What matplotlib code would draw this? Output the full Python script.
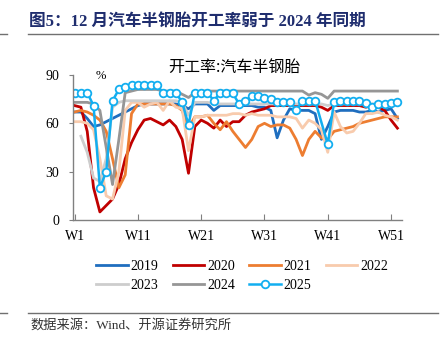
import numpy as np
import matplotlib
matplotlib.use("Agg")
import matplotlib.pyplot as plt

plt.rcParams['font.family'] = ['Liberation Serif', 'Noto Sans CJK SC']

weeks = np.arange(1, 53)
tick_weeks = [1, 11, 21, 31, 41, 51]
tick_labels = ["W1", "W11", "W21", "W31", "W41", "W51"]
nan = np.nan

y2019 = [67, 67, 63, 58, 59, 61, 63, 65, 67, 69, 71, 72, 72, 72, 72, 72, 72, 71, 69, 72,
         72, 72, 68, 71, 71, 71, 71, 71, 71, 70, 70, 68, 51, 62, 69, 68, 68, 68, 66, 50,
         58, 67, 68, 68, 68, 67, 67, 68, 67, 68, 69, 63]
y2020 = [71, 70, 55, 20, 5, 9, 13, 22, 38, 48, 56, 62, 63, 61, 59, 62, 58, 50, 29, 58,
         62, 60, 57, 62, 58, 61, 61, 65, 67, 68, 69, 71, 71, 71, 71, 71, 71, 71, 71, 70,
         68, 71, 71, 71, 71, 71, 70, 71, 70, 68, 62, 57]
y2021 = [67, 68, 67, 65, 62, 55, 38, 20, 28, 66, 72, 72, 72, 72, 72, 72, 71, 68, 57, 64,
         64, 65, 60, 56, 61, 55, 50, 45, 50, 58, 60, 58, 59, 59, 57, 50, 40, 50, 55, 51,
         50, 55, 56, 57, 58, 60, 61, 62, 63, 64, 64, 64]
y2022 = [61, 61, 60, 56, 38, 15, 13, 30, 68, 73, 73, 70, 72, 73, 68, 74, 70, 69, 43, 64,
         64, 65, 65, 65, 65, 66, 66, 65, 66, 65, 65, 65, 64, 64, 64, 63, 57, 62, 60, 56,
         42, 67, 58, 54, 55, 60, 66, 66, 67, 65, 64, 62]
y2023 = [nan, 52, 42, 26, 24, 38, 70, 73, 74, 74, 74, 74, 74, 74, 74, 74, 74, 73, 65, 73,
         73, 73, 72, 72, 72, 72, 72, 72, 72, 72, 72, 72, 72, 72, 72, 72, 72, 72, 72, 72,
         71, 72, 72, 72, 72, 72, 72, 72, 72, 72, 72, 71]
y2024 = [73, 73, 73, 72, 68, 45, 22, 50, 79, 80, 81, 81, 81, 81, 80, 80, 80, 78, 76, 79,
         80, 80, 80, 80, 80, 80, 80, 80, 80, 80, 80, 80, 80, 80, 80, 80, 80, 77.5, 79, 78,
         75.5, 80, 80, 80, 80, 80, 80, 80, 80, 80, 80, 80]
y2025 = [79, 79, 79, 71, 20, 30, 74, 81, 82.5, 83.5, 83.5, 83.5, 83.5, 83.5, 79, 79, 79, 73, 59, 79,
         79, 79, 74, 79, 79, 78.5, 72, 74, 77, 77, 75.5, 75, 73, 73.5, 73.5, 68, 74, 74, 74, nan,
         47, 73.5, 74, 74, 74, 74, 72.5, 70, 72, 72, 72.5, 73]

series = [
    ("2019", y2019, "#1f6ebf"),
    ("2020", y2020, "#c00000"),
    ("2021", y2021, "#ed7d31"),
    ("2022", y2022, "#f8cbad"),
    ("2023", y2023, "#cdcdcd"),
    ("2024", y2024, "#969696"),
]

fig = plt.figure(figsize=(4.45, 3.47), dpi=100)
ax = fig.add_axes([0.164, 0.366, 0.739, 0.418])

lines = {}
for name, vals, col in series:
    v = np.array(vals, dtype=float)
    m = ~np.isnan(v)
    lines[name], = ax.plot(weeks[m], v[m], color=col, lw=2.0, label=name)

v = np.array(y2025, dtype=float)
m = ~np.isnan(v)
lines["2025"], = ax.plot(weeks[m], v[m], color="#12aef0", lw=1.8, marker="o", markersize=5.5,
                         markerfacecolor="white", markeredgecolor="#12aef0",
                         markeredgewidth=1.3, label="2025")

ax.set_xlim(0.75, 52.7)
ax.set_ylim(0, 90)
ax.set_yticks([0, 30, 60, 90])
ax.set_xticks(tick_weeks)
ax.set_xticklabels(tick_labels)
ax.tick_params(axis="x", direction="in", length=4, pad=7, labelsize=10, color="#808080")
ax.tick_params(axis="y", direction="out", length=3, pad=7, labelsize=10, color="#808080")
for s in ["top", "right"]:
    ax.spines[s].set_visible(False)
for s in ["left", "bottom"]:
    ax.spines[s].set_color("#808080")
    ax.spines[s].set_linewidth(1.0)

ax.text(5.2, 89.3, "%", fontsize=9, ha="center", va="center")
fig.text(0.527, 0.806, "开工率:汽车半钢胎", fontsize=11.5, ha="center", va="center",
         family=["Noto Sans CJK SC"])

# legend filled column by column, so order it to read row by row
order = ["2019", "2023", "2020", "2024", "2021", "2025", "2022"]
fig.legend([lines[k] for k in order], order, loc="center", bbox_to_anchor=(0.544, 0.205),
           ncol=4, frameon=False, fontsize=10, handlelength=2.3, handletextpad=0.2,
           columnspacing=1.0, labelspacing=0.45)

# header and footer
fig.text(0.066, 0.937, "图5：12 月汽车半钢胎开工率弱于 2024 年同期", fontsize=12,
         fontweight="bold", color="#1f2d6e", ha="left", va="center")
fig.add_artist(plt.Line2D([0.063, 0.985], [0.902, 0.902], color="#707070", lw=1.0))
fig.add_artist(plt.Line2D([0.0, 0.016], [0.902, 0.902], color="#707070", lw=1.0))
fig.add_artist(plt.Line2D([0.063, 0.985], [0.099, 0.099], color="#707070", lw=1.0))
fig.add_artist(plt.Line2D([0.0, 0.016], [0.099, 0.099], color="#707070", lw=1.0))
fig.text(0.068, 0.063, "数据来源：Wind、开源证券研究所", fontsize=9.5, color="#333333",
         ha="left", va="center")

fig.savefig("out.png", dpi=100)
